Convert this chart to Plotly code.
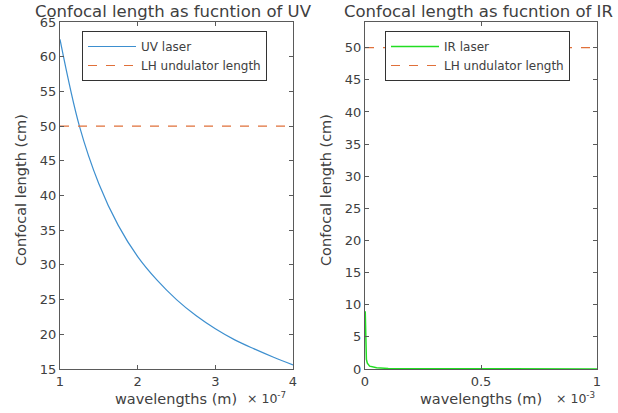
import plotly.graph_objects as go

# UV subplot data (x in units of 1e-7 m)
uv_x = [1.0, 1.25, 1.5, 1.75, 2.0, 2.25, 2.5, 2.75, 3.0, 3.25, 3.5, 3.75, 4.0]
uv_y = [62.5, 50.0, 41.7, 35.7, 31.2, 27.8, 25.0, 22.7, 20.8, 19.2, 17.9, 16.7, 15.6]
uv_und_x = [1.0, 4.0]
uv_und_y = [50.0, 50.0]

# IR subplot data (x in units of 1e-3 m)
ir_x = [0.001, 0.003, 0.006, 0.01, 0.02, 0.05, 0.1, 0.2, 0.5, 1.0]
ir_y = [9.0, 3.0, 1.5, 0.9, 0.45, 0.18, 0.09, 0.05, 0.02, 0.01]
ir_und_x = [0.0, 1.0]
ir_und_y = [50.0, 50.0]

uv_xticks = [1, 2, 3, 4]
uv_yticks = [15, 20, 25, 30, 35, 40, 45, 50, 55, 60, 65]
ir_xticks = [0, 0.5, 1]
ir_xticklabels = ["0", "0.5", "1"]
ir_yticks = [0, 5, 10, 15, 20, 25, 30, 35, 40, 45, 50]

TXT = "#404040"
AX = "#5a5a5a"
FONT = "DejaVu Sans"

W, H = 618, 413


def px(x):
    return x / W


def py(y):
    return 1 - y / H


fig = go.Figure()
fig.add_trace(go.Scatter(x=uv_x, y=uv_y, mode="lines", name="UV laser",
                         line=dict(color="#3d8fcf", width=1.2, shape="spline"),
                         xaxis="x", yaxis="y", legend="legend"))
fig.add_trace(go.Scatter(x=uv_und_x, y=uv_und_y, mode="lines", name="LH undulator length",
                         line=dict(color="#e0703a", width=1.2, dash="dash"),
                         xaxis="x", yaxis="y", legend="legend"))
fig.add_trace(go.Scatter(x=ir_x, y=ir_y, mode="lines", name="IR laser",
                         line=dict(color="#22dd22", width=1.5),
                         xaxis="x2", yaxis="y2", legend="legend2"))
fig.add_trace(go.Scatter(x=ir_und_x, y=ir_und_y, mode="lines", name="LH undulator length",
                         line=dict(color="#e0703a", width=1.2, dash="dash"),
                         xaxis="x2", yaxis="y2", legend="legend2"))

axcommon = dict(showline=True, mirror="ticks", linecolor=AX, linewidth=1,
                ticks="inside", ticklen=4, tickcolor=AX, showgrid=False, zeroline=False,
                automargin=False,
                tickfont=dict(family=FONT, size=13, color=TXT))

ydom = [py(369), py(22)]
legcommon = dict(xanchor="left", yanchor="top",
                 bordercolor="#333", borderwidth=1, bgcolor="white",
                 font=dict(family=FONT, size=12, color=TXT), tracegroupgap=0,
                 itemwidth=48)
fig.update_layout(
    width=W, height=H,
    margin=dict(l=0, r=0, t=0, b=0, autoexpand=False),
    paper_bgcolor="white", plot_bgcolor="white",
    font=dict(family=FONT, color=TXT),
    xaxis=dict(domain=[px(60), px(293)], range=[1, 4], tickvals=uv_xticks, anchor="y", **axcommon),
    yaxis=dict(domain=ydom, range=[15, 65], tickvals=uv_yticks, anchor="x", **axcommon),
    xaxis2=dict(domain=[px(365), px(597)], range=[0, 1], tickvals=ir_xticks,
                ticktext=ir_xticklabels, anchor="y2", **axcommon),
    yaxis2=dict(domain=ydom, range=[0, 54], tickvals=ir_yticks, anchor="x2", **axcommon),
    legend=dict(x=px(82), y=py(31), **legcommon),
    legend2=dict(x=px(385), y=py(31), **legcommon),
    showlegend=True,
)

ann = [
    dict(text="Confocal length as fucntion of UV", x=173, y=11, size=16.5),
    dict(text="Confocal length as fucntion of IR", x=478, y=11, size=16.5),
    dict(text="wavelengths (m)", x=176, y=399, size=14.5),
    dict(text="wavelengths (m)", x=481, y=399, size=14.5),
    dict(text="× 10<sup>-7</sup>", x=266, y=398, size=12.5),
    dict(text="× 10<sup>-3</sup>", x=575, y=398, size=12.5),
]
for a in ann:
    fig.add_annotation(text=a["text"], x=px(a["x"]), y=py(a["y"]), xref="paper", yref="paper",
                       showarrow=False, font=dict(family=FONT, size=a["size"], color=TXT),
                       xanchor="center", yanchor="middle")
for xv in [21, 326]:
    fig.add_annotation(text="Confocal length (cm)", x=px(xv), y=py(190), xref="paper", yref="paper",
                       showarrow=False, textangle=-90, font=dict(family=FONT, size=14.5, color=TXT),
                       xanchor="center", yanchor="middle")

fig.write_html("out.html",
               config={"displayModeBar": False},
               post_script="document.body.style.margin='0';document.body.style.overflow='hidden';")
